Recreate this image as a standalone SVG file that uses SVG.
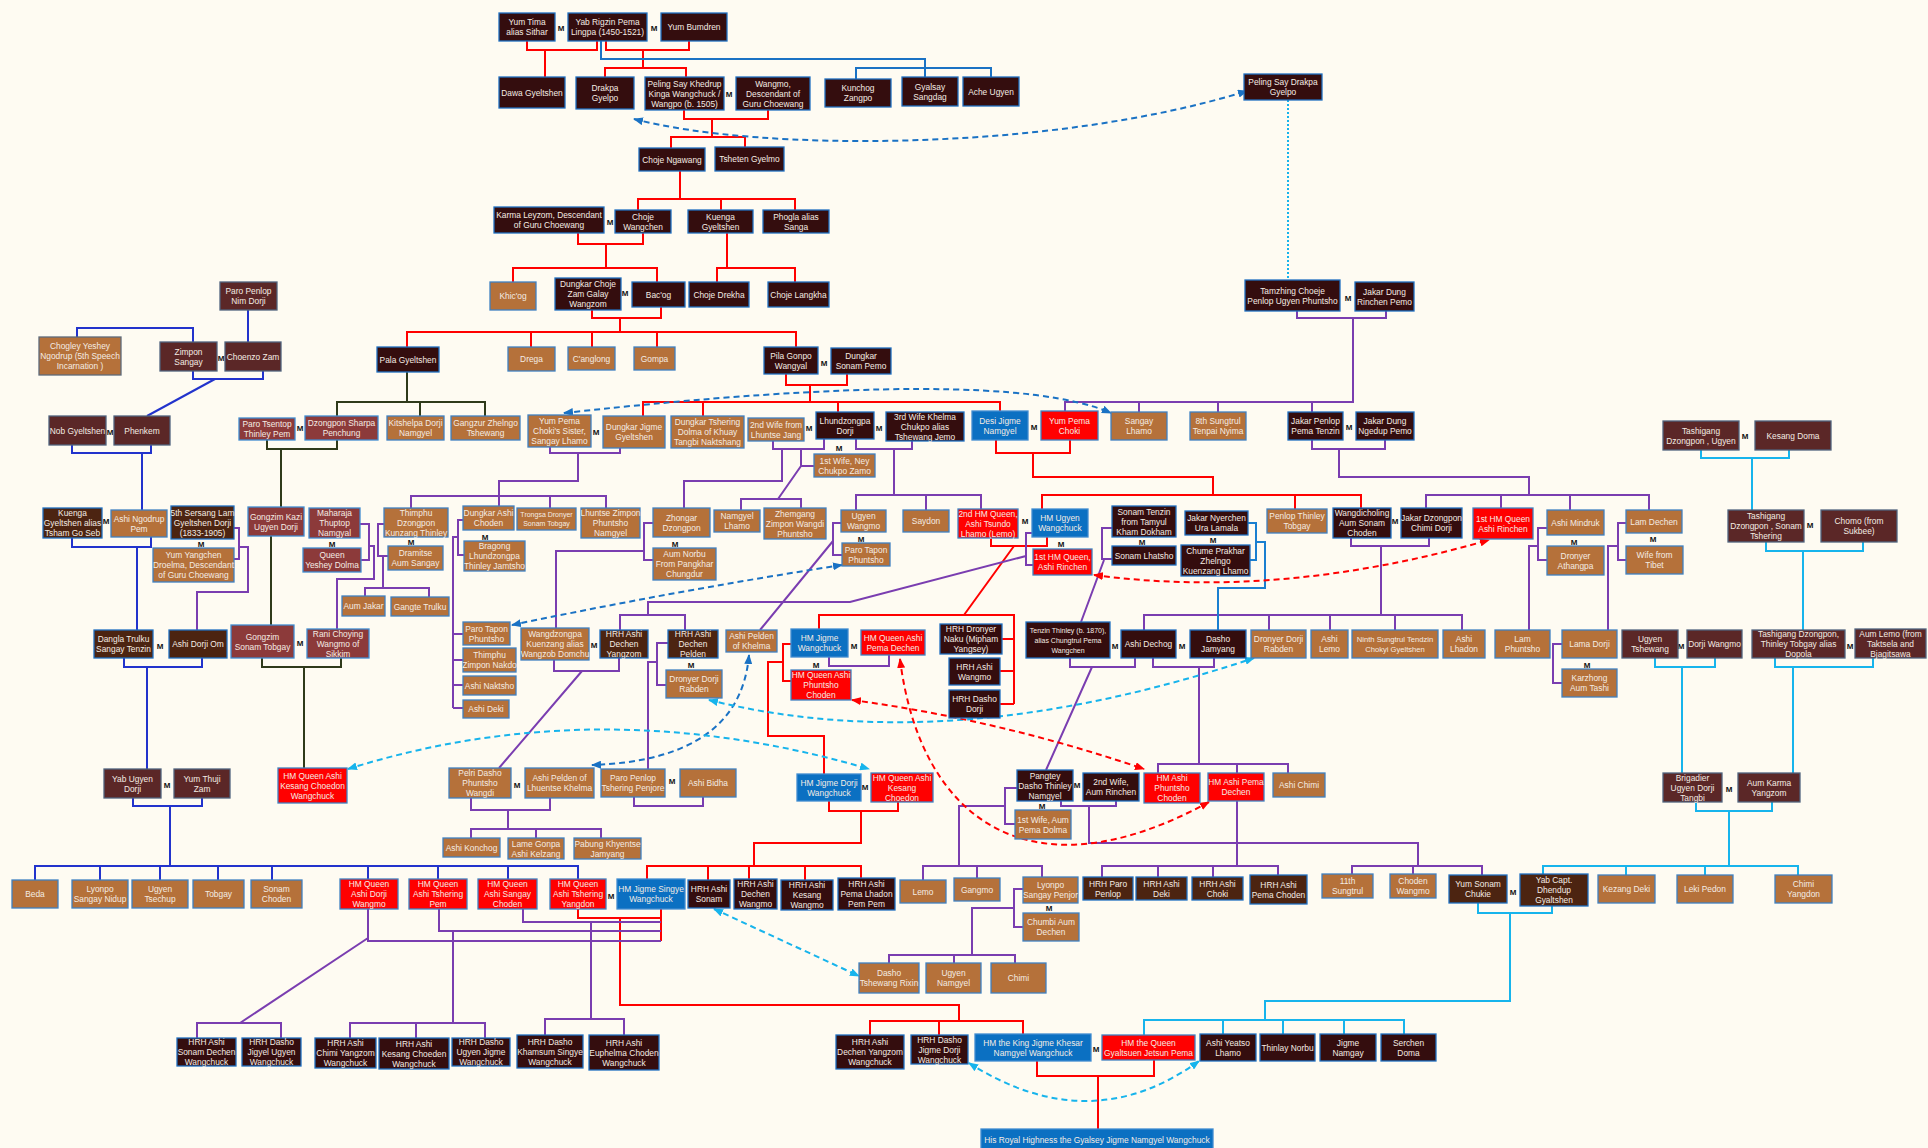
<svg xmlns="http://www.w3.org/2000/svg" width="1928" height="1148" viewBox="0 0 1928 1148">
<style>
rect{stroke-width:1.3}
.dk rect{fill:#340d0e;stroke:#1f6fc0}
.mr rect{fill:#5b2727;stroke:#50637d}
.rb rect{fill:#8c3a3a;stroke:#3f8bd0}
.cp rect{fill:#b5713a;stroke:#3f80c0}
.db rect{fill:#4c2411;stroke:#1f6fc0}
.rd rect{fill:#ff0000;stroke:#3f80c0}
.bl rect{fill:#0b70c2;stroke:#3f8bd0}
text{font-family:"Liberation Sans",Arial,sans-serif;font-size:8.4px;fill:#f4ece4;text-anchor:middle}
.sm text{font-size:7px}
.m{fill:#111;font-weight:bold;font-size:8px}
#connectors path{fill:none;stroke-width:2}
.r{stroke:#ff0000}.b{stroke:#2233cc}.tb{stroke:#1a72c4}.p{stroke:#7a3db0}.o{stroke:#2f3a1a}.c{stroke:#17b4ec}.bb{stroke:#1a7fd0}
.d{stroke-dasharray:6 4}
.dot{stroke-dasharray:2 2}
</style>
<defs>
<marker id="ab" viewBox="0 0 10 8" refX="9" refY="4" markerWidth="10" markerHeight="8" markerUnits="userSpaceOnUse" orient="auto-start-reverse"><path d="M0,0 L10,4 L0,8 z" fill="#1a72c4"/></marker>
<marker id="ac" viewBox="0 0 10 8" refX="9" refY="4" markerWidth="10" markerHeight="8" markerUnits="userSpaceOnUse" orient="auto-start-reverse"><path d="M0,0 L10,4 L0,8 z" fill="#17b4ec"/></marker>
<marker id="ar" viewBox="0 0 10 8" refX="9" refY="4" markerWidth="10" markerHeight="8" markerUnits="userSpaceOnUse" orient="auto-start-reverse"><path d="M0,0 L10,4 L0,8 z" fill="#ff0000"/></marker>
</defs>
<rect width="1928" height="1148" fill="#fefbf2"/>
<g id="connectors">
<path class="r" d="M527 41V50H597V41M545 50V77M606 41V50H689V41M643 50V68M605 77V68H686V77"/>
<path class="tb" d="M601 41V59H925V77M856 79V68H991V77"/>
<path class="r" d="M684 110V119H768V110M712 119V137M671 148V137H745V147M680 171V199M638 210V199H795V210M721 199V210"/>
<path class="r" d="M578 233V244H643V233M606 244V268M513 282V268H657V282M727 233V268M717 282V268H795V282"/>
<path class="r" d="M592 310V318H661V307M620 318V332M407 347V332H796V347M531 332V347M592 332V347M657 332V347"/>
<path class="r" d="M786 374V385H847V374M810 385V402M643 416V402H1000V411M703 402V416M838 402V412"/>
<path class="r" d="M996 440V453H1070V440M1033 453V477H1213V495M1042 509V495H1361V508M1295 495V509"/>
<path class="r" d="M991 538V546H1047V537M1014 546L964 615M819 629V615H1014V704M1002 639H1014M1000 671H1014M1000 704H1014"/>
<path class="r" d="M791 644H783V681H791M783 662H768V736H824V774"/>
<path class="r" d="M829 801V811H898V802M861 811V843H754V866M647 879V866H861V878M708 866V880M749 866V879M805 866V880"/>
<path class="r" d="M578 909V918H661V909M661 909V941M620 918V1005H959V1021M870 1035V1021H1023V1034M939 1021V1035"/>
<path class="r" d="M1037 1061V1076H1154V1060M1098 1076V1129"/>
<path class="b" d="M248 310V342M77 337V328H193V342M193 371V379H263V371M215 379L147 416M72 445V453H151V445M142 453V510M72 538V547H151V537M137 547V630M124 658V667H202V658M147 667V769M133 798V806H202V798M170 806V866M35 880V866H578V879M100 866V880M160 866V880M218 866V880M272 866V880M368 866V879M438 866V879M508 866V879"/>
<path class="o" d="M407 372V402M337 416V402H485V416M420 402V416M267 440V449H337V440M281 449V507M271 536V625M262 658V667H341V658M304 667V768"/>
<path class="p" d="M1297 311V318H1386V311M1353 318V402H1065V411M1139 402V412M1218 402V412M1312 402V412"/>
<path class="p" d="M1312 440V449H1385V440M1339 449V477H1529V495M1426 508V495H1649V510M1501 495V508M1570 495V510"/>
<path class="p" d="M1351 538V546H1429V538M1381 546V615M1144 630V615H1462V630M1269 615V630M1330 615V630M1395 615V630"/>
<path class="p" d="M1547 528H1538V560H1547M1538 546H1529V630M1626 523H1618V560H1626M1618 546H1608V630M1562 644H1553V683H1562"/>
<path class="p" d="M550 447V453H620V448M578 453V481H499V496M411 508V496H606V508M499 496V506M550 496V508"/>
<path class="p" d="M463 520H458V555H464M458 537H453V708M453 634H463M453 660H463M453 685H463M453 708H463"/>
<path class="p" d="M384 524H378V556H388M383 556V588M365 596V588H429V597M360 524H369V560H361M369 546H374V579H337V629M234 528H239V559H234M239 547H248V592H197V630"/>
<path class="p" d="M653 523H644V560H653M644 551H556V628"/>
<path class="p" d="M773 441V449H824V439M856 439V449H912V441M801 449V466H814M782 449V481H684V508M801 466L778 499M741 510V499H801V508"/>
<path class="p" d="M894 449V495M856 510V495H981V509M926 495V510M841 523H833V555H842M833 541L760 630"/>
<path class="p" d="M1032 533H1026V565H1033M1026 556L850 602H648V615M620 630V615H685V630M668 643H657V685H666M657 662H648V769"/>
<path class="p" d="M554 660V671H619V658M582 671L499 768M471 798V810H550V798M508 810V829M471 838V829H601V838M536 829V838M634 797V806H703V797"/>
<path class="p" d="M829 657V666H889V655M1112 528H1102V559H1112M1104 560L1081 622M1070 658V667H1135V658M1092 667L1046 770M1153 658V667H1214V658M1199 667V764M1158 773V764H1288V773M1237 764V773"/>
<path class="p" d="M1017 788H1005V824H1015M1005 806H959V866M923 880V866H1042V877M977 866V878"/>
<path class="p" d="M1061 801V806H1116V801M1089 806V843H1418V866M1237 801V866M1102 877V866H1278V875M1158 866V877M1213 866V877M1352 874V866H1482V875M1413 866V874"/>
<path class="p" d="M1023 889H1014V927H1023M1014 908H972V955M889 963V955H1015V963M954 955V963"/>
<path class="p" d="M368 909V941H661M439 909V931H661M523 909V922H661M368 938L240 1023M197 1038V1023H281V1038M453 931V1023M350 1038V1023H485V1038M416 1023V1038M591 922V1019M545 1035V1019H624V1035"/>
<path class="c" d="M1701 450V458H1789V450M1752 458V510M1766 542V551H1863V542M1803 551V630M1655 658V667H1715V658M1682 667V773M1775 658V667H1873V658M1793 667V773"/>
<path class="c" d="M1696 802V811H1772V802M1729 811V866M1543 874V866H1798V875M1626 866V875M1705 866V875M1478 903V913H1552V906M1510 913V1001H1265V1020M1144 1035V1020H1404V1034M1223 1020V1034M1283 1020V1034M1344 1020V1034"/>
<path class="bb" d="M1248 523H1256V560H1250M1256 542H1265V588H1218V630"/>
<path class="c dot" d="M1288 100V280"/>
<path class="tb d" d="M634 119C760 152 1050 152 1247 91" marker-start="url(#ab)" marker-end="url(#ab)"/>
<path class="tb d" d="M564 413Q1000 365 1111 413" marker-start="url(#ab)" marker-end="url(#ab)"/>
<path class="tb d" d="M842 565Q680 590 512 625" marker-start="url(#ab)" marker-end="url(#ab)"/>
<path class="tb d" d="M749 655Q740 760 592 765" marker-start="url(#ab)" marker-end="url(#ab)"/>
<path class="c d" d="M709 700Q950 760 1254 658" marker-start="url(#ac)" marker-end="url(#ac)"/>
<path class="c d" d="M348 769Q600 690 869 769" marker-start="url(#ac)" marker-end="url(#ac)"/>
<path class="c d" d="M714 909L859 976" marker-start="url(#ac)" marker-end="url(#ac)"/>
<path class="c d" d="M969 1063Q1090 1140 1199 1061" marker-start="url(#ac)" marker-end="url(#ac)"/>
<path class="r d" d="M1094 575Q1280 600 1489 540" marker-start="url(#ar)" marker-end="url(#ar)"/>
<path class="r d" d="M852 700Q1000 720 1144 769" marker-start="url(#ar)" marker-end="url(#ar)"/>
<path class="r d" d="M900 659C920 820 1030 900 1209 802" marker-start="url(#ar)" marker-end="url(#ar)"/>
</g>
<g id="marks">
<text class="m" x="561" y="31">M</text><text class="m" x="654" y="31">M</text><text class="m" x="729" y="97">M</text><text class="m" x="610" y="225">M</text><text class="m" x="625" y="296">M</text><text class="m" x="1348" y="301">M</text><text class="m" x="221" y="361">M</text><text class="m" x="824" y="366">M</text><text class="m" x="110" y="435">M</text><text class="m" x="300" y="431">M</text><text class="m" x="596" y="435">M</text><text class="m" x="809" y="431">M</text><text class="m" x="879" y="431">M</text><text class="m" x="839" y="451">M</text><text class="m" x="1034" y="430">M</text><text class="m" x="1349" y="430">M</text><text class="m" x="1745" y="439">M</text><text class="m" x="106" y="524">M</text><text class="m" x="201" y="547">M</text><text class="m" x="332" y="547">M</text><text class="m" x="411" y="545">M</text><text class="m" x="485" y="540">M</text><text class="m" x="675" y="547">M</text><text class="m" x="861" y="542">M</text><text class="m" x="1025" y="524">M</text><text class="m" x="1061" y="547">M</text><text class="m" x="1142" y="545">M</text><text class="m" x="1213" y="543">M</text><text class="m" x="1395" y="524">M</text><text class="m" x="1574" y="545">M</text><text class="m" x="1653" y="542">M</text><text class="m" x="1810" y="528">M</text><text class="m" x="160" y="649">M</text><text class="m" x="300" y="646">M</text><text class="m" x="594" y="648">M</text><text class="m" x="691" y="668">M</text><text class="m" x="854" y="649">M</text><text class="m" x="816" y="668">M</text><text class="m" x="1115" y="649">M</text><text class="m" x="1182" y="649">M</text><text class="m" x="1587" y="668">M</text><text class="m" x="1681" y="649">M</text><text class="m" x="1850" y="649">M</text><text class="m" x="167" y="788">M</text><text class="m" x="517" y="788">M</text><text class="m" x="672" y="784">M</text><text class="m" x="865" y="790">M</text><text class="m" x="1077" y="788">M</text><text class="m" x="1042" y="809">M</text><text class="m" x="1729" y="792">M</text><text class="m" x="611" y="899">M</text><text class="m" x="1049" y="911">M</text><text class="m" x="1513" y="895">M</text><text class="m" x="1096" y="1052">M</text>
</g>
<g id="nodes">
<g id="n-yumtima" class="dk"><rect x="499" y="13" width="56" height="28"/><text x="527" y="25">Yum Tima<tspan x="527" dy="10">alias Sithar</tspan></text></g>
<g id="n-yabrigzin" class="dk"><rect x="568" y="13" width="79" height="28"/><text x="607.5" y="25">Yab Rigzin Pema<tspan x="607.5" dy="10">Lingpa (1450-1521)</tspan></text></g>
<g id="n-yumbumdren" class="dk"><rect x="661" y="13" width="66" height="28"/><text x="694" y="30">Yum Bumdren</text></g>
<g id="n-dawa" class="dk"><rect x="499" y="77" width="66" height="31"/><text x="532" y="95.5">Dawa Gyeltshen</text></g>
<g id="n-drakpa" class="dk"><rect x="576" y="77" width="58" height="32"/><text x="605" y="91">Drakpa<tspan x="605" dy="10">Gyelpo</tspan></text></g>
<g id="n-peling" class="dk"><rect x="645" y="77" width="79" height="33"/><text x="684.5" y="86.5">Peling Say Khedrup<tspan x="684.5" dy="10">Kinga Wangchuck /</tspan><tspan x="684.5" dy="10">Wangpo (b. 1505)</tspan></text></g>
<g id="n-wangmo" class="dk"><rect x="736" y="77" width="74" height="33"/><text x="773" y="86.5">Wangmo,<tspan x="773" dy="10">Descendant of</tspan><tspan x="773" dy="10">Guru Choewang</tspan></text></g>
<g id="n-kunchog" class="dk"><rect x="825" y="79" width="66" height="28"/><text x="858" y="91">Kunchog<tspan x="858" dy="10">Zangpo</tspan></text></g>
<g id="n-gyalsay" class="dk"><rect x="902" y="77" width="56" height="29"/><text x="930" y="89.5">Gyalsay<tspan x="930" dy="10">Sangdag</tspan></text></g>
<g id="n-ache" class="dk"><rect x="963" y="77" width="56" height="29"/><text x="991" y="94.5">Ache Ugyen</text></g>
<g id="n-pelingdrakpa" class="dk"><rect x="1244" y="74" width="78" height="26"/><text x="1283" y="85">Peling Say Drakpa<tspan x="1283" dy="10">Gyelpo</tspan></text></g>
<g id="n-chojengawang" class="dk"><rect x="639" y="148" width="66" height="23"/><text x="672" y="162.5">Choje Ngawang</text></g>
<g id="n-tsheten" class="dk"><rect x="715" y="147" width="69" height="24"/><text x="749.5" y="162">Tsheten Gyelmo</text></g>
<g id="n-karma" class="dk"><rect x="494" y="207" width="110" height="26"/><text x="549" y="218">Karma Leyzom, Descendant<tspan x="549" dy="10">of Guru Choewang</tspan></text></g>
<g id="n-chojewangchen" class="dk"><rect x="615" y="210" width="56" height="23"/><text x="643" y="219.5">Choje<tspan x="643" dy="10">Wangchen</tspan></text></g>
<g id="n-kuenga" class="dk"><rect x="688" y="210" width="65" height="23"/><text x="720.5" y="219.5">Kuenga<tspan x="720.5" dy="10">Gyeltshen</tspan></text></g>
<g id="n-phogla" class="dk"><rect x="763" y="210" width="66" height="23"/><text x="796" y="219.5">Phogla alias<tspan x="796" dy="10">Sanga</tspan></text></g>
<g id="n-khicog" class="cp"><rect x="490" y="282" width="46" height="28"/><text x="513" y="299">Khic'og</text></g>
<g id="n-dungkarchoje" class="dk"><rect x="555" y="278" width="66" height="32"/><text x="588" y="287">Dungkar Choje<tspan x="588" dy="10">Zam Galay</tspan><tspan x="588" dy="10">Wangzom</tspan></text></g>
<g id="n-bacog" class="dk"><rect x="632" y="282" width="53" height="25"/><text x="658.5" y="297.5">Bac'og</text></g>
<g id="n-chojedrekha" class="dk"><rect x="689" y="282" width="60" height="25"/><text x="719" y="297.5">Choje Drekha</text></g>
<g id="n-chojelangkha" class="dk"><rect x="768" y="282" width="61" height="25"/><text x="798.5" y="297.5">Choje Langkha</text></g>
<g id="n-tamzhing" class="dk"><rect x="1245" y="280" width="95" height="31"/><text x="1292.5" y="293.5">Tamzhing Choeje<tspan x="1292.5" dy="10">Penlop Ugyen Phuntsho</tspan></text></g>
<g id="n-jakardungrinchen" class="dk"><rect x="1355" y="282" width="59" height="29"/><text x="1384.5" y="294.5">Jakar Dung<tspan x="1384.5" dy="10">Rinchen Pemo</tspan></text></g>
<g id="n-paropenlopnim" class="mr"><rect x="220" y="282" width="57" height="28"/><text x="248.5" y="294">Paro Penlop<tspan x="248.5" dy="10">Nim Dorji</tspan></text></g>
<g id="n-chogley" class="cp"><rect x="39" y="337" width="82" height="38" style="stroke:#5e6a7a"/><text x="80" y="349">Chogley Yeshey<tspan x="80" dy="10">Ngodrup (5th Speech</tspan><tspan x="80" dy="10">Incarnation )</tspan></text></g>
<g id="n-zimpon" class="mr"><rect x="160" y="342" width="57" height="29"/><text x="188.5" y="354.5">Zimpon<tspan x="188.5" dy="10">Sangay</tspan></text></g>
<g id="n-choenzo" class="mr"><rect x="225" y="342" width="56" height="29"/><text x="253" y="359.5">Choenzo Zam</text></g>
<g id="n-pala" class="dk"><rect x="377" y="347" width="62" height="25"/><text x="408" y="362.5">Pala Gyeltshen</text></g>
<g id="n-drega" class="cp"><rect x="508" y="347" width="47" height="24"/><text x="531.5" y="362">Drega</text></g>
<g id="n-canglong" class="cp"><rect x="568" y="347" width="47" height="23"/><text x="591.5" y="361.5">C'anglong</text></g>
<g id="n-gompa" class="cp"><rect x="634" y="347" width="41" height="23"/><text x="654.5" y="361.5">Gompa</text></g>
<g id="n-pila" class="dk"><rect x="764" y="347" width="54" height="27"/><text x="791" y="358.5">Pila Gonpo<tspan x="791" dy="10">Wangyal</tspan></text></g>
<g id="n-dungkarsonam" class="dk"><rect x="831" y="348" width="60" height="26"/><text x="861" y="359">Dungkar<tspan x="861" dy="10">Sonam Pemo</tspan></text></g>
<g id="n-nob" class="mr"><rect x="49" y="416" width="57" height="29"/><text x="77.5" y="433.5">Nob Gyeltshen</text></g>
<g id="n-phenkem" class="mr"><rect x="114" y="416" width="56" height="29"/><text x="142" y="433.5">Phenkem</text></g>
<g id="n-parotsentop" class="rb"><rect x="239" y="418" width="56" height="22"/><text x="267" y="427">Paro Tsentop<tspan x="267" dy="10">Thinley Pem</tspan></text></g>
<g id="n-dzongponsharpa" class="rb"><rect x="305" y="416" width="73" height="24"/><text x="341.5" y="426">Dzongpon Sharpa<tspan x="341.5" dy="10">Penchung</tspan></text></g>
<g id="n-kitshelpa" class="cp"><rect x="387" y="416" width="57" height="24"/><text x="415.5" y="426">Kitshelpa Dorji<tspan x="415.5" dy="10">Namgyel</tspan></text></g>
<g id="n-gangzur" class="cp"><rect x="451" y="416" width="69" height="24"/><text x="485.5" y="426">Gangzur Zhelngo<tspan x="485.5" dy="10">Tshewang</tspan></text></g>
<g id="n-yumpemasister" class="cp"><rect x="528" y="415" width="63" height="32"/><text x="559.5" y="424">Yum Pema<tspan x="559.5" dy="10">Choki's Sister,</tspan><tspan x="559.5" dy="10">Sangay Lhamo</tspan></text></g>
<g id="n-dungkarjigme" class="cp"><rect x="603" y="416" width="62" height="32"/><text x="634" y="430">Dungkar Jigme<tspan x="634" dy="10">Gyeltshen</tspan></text></g>
<g id="n-dungkartshering" class="cp"><rect x="671" y="416" width="73" height="32"/><text x="707.5" y="425">Dungkar Tshering<tspan x="707.5" dy="10">Dolma of Khuay</tspan><tspan x="707.5" dy="10">Tangbi  Naktshang</tspan></text></g>
<g id="n-2ndwifelhuntse" class="cp"><rect x="748" y="418" width="56" height="23"/><text x="776" y="427.5">2nd Wife from<tspan x="776" dy="10">Lhuntse Jang</tspan></text></g>
<g id="n-lhundzongpa" class="dk"><rect x="816" y="412" width="58" height="27"/><text x="845" y="423.5">Lhundzongpa<tspan x="845" dy="10">Dorji</tspan></text></g>
<g id="n-3rdwife" class="dk"><rect x="886" y="412" width="78" height="29"/><text x="925" y="419.5">3rd Wife Khelma<tspan x="925" dy="10">Chukpo alias</tspan><tspan x="925" dy="10">Tshewang Jemo</tspan></text></g>
<g id="n-1stwifeney" class="cp"><rect x="814" y="454" width="61" height="23"/><text x="844.5" y="463.5">1st Wife, Ney<tspan x="844.5" dy="10">Chukpo Zamo</tspan></text></g>
<g id="n-desi" class="bl"><rect x="972" y="411" width="56" height="29"/><text x="1000" y="423.5">Desi Jigme<tspan x="1000" dy="10">Namgyel</tspan></text></g>
<g id="n-yumpemachoki" class="rd"><rect x="1041" y="411" width="57" height="29"/><text x="1069.5" y="423.5">Yum Pema<tspan x="1069.5" dy="10">Choki</tspan></text></g>
<g id="n-sangaylhamo" class="cp"><rect x="1111" y="412" width="56" height="28"/><text x="1139" y="424">Sangay<tspan x="1139" dy="10">Lhamo</tspan></text></g>
<g id="n-8thsungtrul" class="cp"><rect x="1190" y="412" width="56" height="28"/><text x="1218" y="424">8th Sungtrul<tspan x="1218" dy="10">Tenpai  Nyima</tspan></text></g>
<g id="n-jakarpenlop" class="dk"><rect x="1288" y="412" width="55" height="28"/><text x="1315.5" y="424">Jakar Penlop<tspan x="1315.5" dy="10">Pema Tenzin</tspan></text></g>
<g id="n-jakardungngedup" class="dk"><rect x="1356" y="412" width="58" height="28"/><text x="1385" y="424">Jakar Dung<tspan x="1385" dy="10">Ngedup Pemo</tspan></text></g>
<g id="n-tashigangugyen" class="mr"><rect x="1663" y="421" width="76" height="29"/><text x="1701" y="433.5">Tashigang<tspan x="1701" dy="10">Dzongpon , Ugyen</tspan></text></g>
<g id="n-kesangdoma" class="mr"><rect x="1755" y="421" width="76" height="29"/><text x="1793" y="438.5">Kesang Doma</text></g>
<g id="n-kuengatsham" class="db"><rect x="43" y="508" width="59" height="30"/><text x="72.5" y="516">Kuenga<tspan x="72.5" dy="10">Gyeltshen alias</tspan><tspan x="72.5" dy="10">Tsham Go Seb</tspan></text></g>
<g id="n-ashingodrup" class="cp"><rect x="111" y="510" width="56" height="27"/><text x="139" y="521.5">Ashi Ngodrup<tspan x="139" dy="10">Pem</tspan></text></g>
<g id="n-5thsersang" class="db"><rect x="171" y="506" width="63" height="33"/><text x="202.5" y="515.5">5th Sersang Lam<tspan x="202.5" dy="10">Gyeltshen Dorji</tspan><tspan x="202.5" dy="10">(1833-1905)</tspan></text></g>
<g id="n-yumyangchen" class="cp"><rect x="153" y="548" width="81" height="34"/><text x="193.5" y="558">Yum Yangchen<tspan x="193.5" dy="10">Droelma, Descendant</tspan><tspan x="193.5" dy="10">of Guru Choewang</tspan></text></g>
<g id="n-gongzimkazi" class="rb"><rect x="248" y="507" width="56" height="29"/><text x="276" y="519.5">Gongzim Kazi<tspan x="276" dy="10">Ugyen Dorji</tspan></text></g>
<g id="n-maharaja" class="rb"><rect x="309" y="508" width="51" height="30"/><text x="334.5" y="516">Maharaja<tspan x="334.5" dy="10">Thuptop</tspan><tspan x="334.5" dy="10">Namgyal</tspan></text></g>
<g id="n-queenyeshey" class="rb"><rect x="303" y="548" width="58" height="24"/><text x="332" y="558">Queen<tspan x="332" dy="10">Yeshey Dolma</tspan></text></g>
<g id="n-thimphudzongpon" class="cp"><rect x="384" y="508" width="64" height="29"/><text x="416" y="515.5">Thimphu<tspan x="416" dy="10">Dzongpon</tspan><tspan x="416" dy="10">Kunzang Thinley</tspan></text></g>
<g id="n-dramitse" class="cp"><rect x="388" y="546" width="55" height="24"/><text x="415.5" y="556">Dramitse<tspan x="415.5" dy="10">Aum Sangay</tspan></text></g>
<g id="n-dungkarashichoden" class="cp"><rect x="463" y="506" width="51" height="24"/><text x="488.5" y="516">Dungkar Ashi<tspan x="488.5" dy="10">Choden</tspan></text></g>
<g id="n-bragong" class="cp"><rect x="464" y="541" width="61" height="30"/><text x="494.5" y="549">Bragong<tspan x="494.5" dy="10">Lhundzongpa</tspan><tspan x="494.5" dy="10">Thinley Jamtsho</tspan></text></g>
<g id="n-trongsadronyer" class="cp sm"><rect x="517" y="508" width="59" height="22"/><text x="546.5" y="517">Trongsa Dronyer<tspan x="546.5" dy="9">Sonam Tobgay</tspan></text></g>
<g id="n-lhuntsezimpon" class="cp"><rect x="581" y="508" width="59" height="30"/><text x="610.5" y="516">Lhuntse Zimpon<tspan x="610.5" dy="10">Phuntsho</tspan><tspan x="610.5" dy="10">Namgyel</tspan></text></g>
<g id="n-zhongar" class="cp"><rect x="653" y="508" width="57" height="29"/><text x="681.5" y="520.5">Zhongar<tspan x="681.5" dy="10">Dzongpon</tspan></text></g>
<g id="n-aumnorbu" class="cp"><rect x="653" y="548" width="63" height="32"/><text x="684.5" y="557">Aum Norbu<tspan x="684.5" dy="10">From Pangkhar</tspan><tspan x="684.5" dy="10">Chungdur</tspan></text></g>
<g id="n-namgyellhamo" class="cp"><rect x="714" y="510" width="46" height="22"/><text x="737" y="519">Namgyel<tspan x="737" dy="10">Lhamo</tspan></text></g>
<g id="n-zhemgang" class="cp"><rect x="764" y="508" width="62" height="31"/><text x="795" y="516.5">Zhemgang<tspan x="795" dy="10">Zimpon Wangdi</tspan><tspan x="795" dy="10">Phuntsho</tspan></text></g>
<g id="n-ugyenwangmo" class="cp"><rect x="841" y="510" width="45" height="22"/><text x="863.5" y="519">Ugyen<tspan x="863.5" dy="10">Wangmo</tspan></text></g>
<g id="n-parotapon1" class="cp"><rect x="842" y="543" width="48" height="23"/><text x="866" y="552.5">Paro Tapon<tspan x="866" dy="10">Phuntsho</tspan></text></g>
<g id="n-saydon" class="cp"><rect x="903" y="510" width="46" height="22"/><text x="926" y="524">Saydon</text></g>
<g id="n-2ndqueen" class="rd"><rect x="958" y="509" width="60" height="29"/><text x="988" y="516.5">2nd HM Queen,<tspan x="988" dy="10">Ashi Tsundo</tspan><tspan x="988" dy="10">Lhamo (Lemo)</tspan></text></g>
<g id="n-hmugyen" class="bl"><rect x="1032" y="509" width="56" height="28"/><text x="1060" y="521">HM  Ugyen<tspan x="1060" dy="10">Wangchuck</tspan></text></g>
<g id="n-1stqueen" class="rd"><rect x="1033" y="549" width="59" height="26"/><text x="1062.5" y="560">1st HM Queen,<tspan x="1062.5" dy="10">Ashi Rinchen</tspan></text></g>
<g id="n-sonamtenzin" class="dk"><rect x="1112" y="506" width="64" height="31"/><text x="1144" y="514.5">Sonam Tenzin<tspan x="1144" dy="10">from Tamyul</tspan><tspan x="1144" dy="10">Kham Dokham</tspan></text></g>
<g id="n-sonamlhatsho" class="dk"><rect x="1112" y="546" width="64" height="19"/><text x="1144" y="558.5">Sonam Lhatsho</text></g>
<g id="n-jakarnyerchen" class="dk"><rect x="1185" y="511" width="63" height="24"/><text x="1216.5" y="521">Jakar Nyerchen<tspan x="1216.5" dy="10">Ura Lamala</tspan></text></g>
<g id="n-chume" class="dk"><rect x="1181" y="545" width="69" height="31"/><text x="1215.5" y="553.5">Chume Prakhar<tspan x="1215.5" dy="10">Zhelngo</tspan><tspan x="1215.5" dy="10">Kuenzang Lhamo</tspan></text></g>
<g id="n-penlopthinley" class="cp"><rect x="1267" y="509" width="60" height="24"/><text x="1297" y="519">Penlop Thinley<tspan x="1297" dy="10">Tobgay</tspan></text></g>
<g id="n-wangdicholing" class="dk"><rect x="1333" y="508" width="58" height="30"/><text x="1362" y="516">Wangdicholing<tspan x="1362" dy="10">Aum Sonam</tspan><tspan x="1362" dy="10">Choden</tspan></text></g>
<g id="n-jakardzongpon" class="dk"><rect x="1401" y="508" width="61" height="30"/><text x="1431.5" y="521">Jakar Dzongpon<tspan x="1431.5" dy="10">Chimi Dorji</tspan></text></g>
<g id="n-1stqueen2" class="rd"><rect x="1473" y="508" width="60" height="31"/><text x="1503" y="521.5">1st HM Queen<tspan x="1503" dy="10">Ashi Rinchen</tspan></text></g>
<g id="n-ashimindruk" class="cp"><rect x="1547" y="510" width="57" height="25"/><text x="1575.5" y="525.5">Ashi Mindruk</text></g>
<g id="n-dronyerathangpa" class="cp"><rect x="1547" y="546" width="57" height="29"/><text x="1575.5" y="558.5">Dronyer<tspan x="1575.5" dy="10">Athangpa</tspan></text></g>
<g id="n-lamdechen" class="cp"><rect x="1626" y="510" width="56" height="23"/><text x="1654" y="524.5">Lam Dechen</text></g>
<g id="n-wifetibet" class="cp"><rect x="1626" y="546" width="57" height="28"/><text x="1654.5" y="558">Wife from<tspan x="1654.5" dy="10">Tibet</tspan></text></g>
<g id="n-tashigangsonam" class="mr"><rect x="1728" y="510" width="76" height="32"/><text x="1766" y="519">Tashigang<tspan x="1766" dy="10">Dzongpon , Sonam</tspan><tspan x="1766" dy="10">Tshering</tspan></text></g>
<g id="n-chomo" class="mr"><rect x="1821" y="510" width="76" height="32"/><text x="1859" y="524">Chomo (from<tspan x="1859" dy="10">Sukbee)</tspan></text></g>
<g id="n-aumjakar" class="cp"><rect x="342" y="596" width="43" height="20"/><text x="363.5" y="609">Aum Jakar</text></g>
<g id="n-gangtetrulku" class="cp"><rect x="391" y="597" width="58" height="19"/><text x="420" y="609.5">Gangte Trulku</text></g>
<g id="n-dangla" class="db"><rect x="94" y="630" width="59" height="28"/><text x="123.5" y="642">Dangla Trulku<tspan x="123.5" dy="10">Sangay Tenzin</tspan></text></g>
<g id="n-ashidorjiom" class="db"><rect x="169" y="630" width="58" height="28"/><text x="198" y="647">Ashi Dorji Om</text></g>
<g id="n-gongzimsonam" class="rb"><rect x="231" y="625" width="63" height="33"/><text x="262.5" y="639.5">Gongzim<tspan x="262.5" dy="10">Sonam Tobgay</tspan></text></g>
<g id="n-rani" class="rb"><rect x="307" y="629" width="62" height="29"/><text x="338" y="636.5">Rani Choying<tspan x="338" dy="10">Wangmo of</tspan><tspan x="338" dy="10">Sikkim</tspan></text></g>
<g id="n-parotapon2" class="cp"><rect x="463" y="622" width="47" height="23"/><text x="486.5" y="631.5">Paro Tapon<tspan x="486.5" dy="10">Phuntsho</tspan></text></g>
<g id="n-thimphuzimpon" class="cp"><rect x="463" y="648" width="53" height="24"/><text x="489.5" y="658">Thimphu<tspan x="489.5" dy="10">Zimpon Nakdo</tspan></text></g>
<g id="n-ashinaktsho" class="cp"><rect x="463" y="676" width="53" height="19"/><text x="489.5" y="688.5">Ashi Naktsho</text></g>
<g id="n-ashideki" class="cp"><rect x="463" y="700" width="46" height="18"/><text x="486" y="712">Ashi Deki</text></g>
<g id="n-wangdzongpa" class="cp"><rect x="521" y="628" width="68" height="32"/><text x="555" y="637">Wangdzongpa<tspan x="555" dy="10">Kuenzang alias</tspan><tspan x="555" dy="10">Wangzob Domchu</tspan></text></g>
<g id="n-hrhdechenyangzom" class="db"><rect x="600" y="630" width="48" height="28"/><text x="624" y="637">HRH Ashi<tspan x="624" dy="10">Dechen</tspan><tspan x="624" dy="10">Yangzom</tspan></text></g>
<g id="n-hrhdechenpelden" class="db"><rect x="668" y="630" width="50" height="28"/><text x="693" y="637">HRH Ashi<tspan x="693" dy="10">Dechen</tspan><tspan x="693" dy="10">Pelden</tspan></text></g>
<g id="n-dronyerdorji1" class="cp"><rect x="666" y="670" width="56" height="28"/><text x="694" y="682">Dronyer Dorji<tspan x="694" dy="10">Rabden</tspan></text></g>
<g id="n-ashipeldenkhelma" class="cp"><rect x="726" y="630" width="51" height="22"/><text x="751.5" y="639">Ashi Pelden<tspan x="751.5" dy="10">of  Khelma</tspan></text></g>
<g id="n-hmjigme" class="bl"><rect x="791" y="629" width="57" height="28"/><text x="819.5" y="641">HM Jigme<tspan x="819.5" dy="10">Wangchuck</tspan></text></g>
<g id="n-hmqueenpemadechen" class="rd"><rect x="861" y="630" width="64" height="25"/><text x="893" y="640.5">HM Queen Ashi<tspan x="893" dy="10">Pema Dechen</tspan></text></g>
<g id="n-hmqueenphuntsho" class="rd"><rect x="791" y="670" width="60" height="30"/><text x="821" y="678">HM Queen Ashi<tspan x="821" dy="10">Phuntsho</tspan><tspan x="821" dy="10">Choden</tspan></text></g>
<g id="n-hrhdronyernaku" class="dk"><rect x="940" y="624" width="62" height="30"/><text x="971" y="632">HRH Dronyer<tspan x="971" dy="10">Naku (Mipham</tspan><tspan x="971" dy="10">Yangsey)</tspan></text></g>
<g id="n-hrhashiwangmo" class="dk"><rect x="949" y="658" width="51" height="27"/><text x="974.5" y="669.5">HRH Ashi<tspan x="974.5" dy="10">Wangmo</tspan></text></g>
<g id="n-hrhdashodorji" class="dk"><rect x="949" y="690" width="51" height="28"/><text x="974.5" y="702">HRH Dasho<tspan x="974.5" dy="10">Dorji</tspan></text></g>
<g id="n-tenzinthinley" class="dk sm"><rect x="1026" y="622" width="84" height="36"/><text x="1068" y="633">Tenzin  Thinley  (b. 1870),<tspan x="1068" dy="10">alias  Chungtrul  Pema</tspan><tspan x="1068" dy="10">Wangchen</tspan></text></g>
<g id="n-ashidechog" class="dk"><rect x="1121" y="630" width="55" height="28"/><text x="1148.5" y="647">Ashi Dechog</text></g>
<g id="n-dashojamyang" class="dk"><rect x="1190" y="630" width="56" height="28"/><text x="1218" y="642">Dasho<tspan x="1218" dy="10">Jamyang</tspan></text></g>
<g id="n-dronyerdorji2" class="cp"><rect x="1251" y="630" width="55" height="28"/><text x="1278.5" y="642">Dronyer Dorji<tspan x="1278.5" dy="10">Rabden</tspan></text></g>
<g id="n-ashilemo" class="cp"><rect x="1311" y="630" width="37" height="28"/><text x="1329.5" y="642">Ashi<tspan x="1329.5" dy="10">Lemo</tspan></text></g>
<g id="n-ninthsungtrul" class="cp"><rect x="1352" y="630" width="86" height="28"/><text x="1395" y="642" style="font-size:7.6px">Ninth Sungtrul Tendzin<tspan x="1395" dy="10">Chokyi Gyeltshen</tspan></text></g>
<g id="n-ashilhadon" class="cp"><rect x="1443" y="630" width="42" height="28"/><text x="1464" y="642">Ashi<tspan x="1464" dy="10">Lhadon</tspan></text></g>
<g id="n-lamphuntsho" class="cp"><rect x="1495" y="630" width="55" height="28"/><text x="1522.5" y="642">Lam<tspan x="1522.5" dy="10">Phuntsho</tspan></text></g>
<g id="n-lamadorji" class="cp"><rect x="1562" y="630" width="55" height="28"/><text x="1589.5" y="647">Lama Dorji</text></g>
<g id="n-karzhong" class="cp"><rect x="1562" y="669" width="55" height="28"/><text x="1589.5" y="681">Karzhong<tspan x="1589.5" dy="10">Aum Tashi</tspan></text></g>
<g id="n-ugyentshewang" class="mr"><rect x="1622" y="630" width="56" height="28"/><text x="1650" y="642">Ugyen<tspan x="1650" dy="10">Tshewang</tspan></text></g>
<g id="n-dorjiwangmo" class="mr"><rect x="1687" y="630" width="55" height="28"/><text x="1714.5" y="647">Dorji  Wangmo</text></g>
<g id="n-tashigangthinley" class="mr"><rect x="1752" y="630" width="93" height="28"/><text x="1798.5" y="637">Tashigang Dzongpon,<tspan x="1798.5" dy="10">Thinley  Tobgay  alias</tspan><tspan x="1798.5" dy="10">Dopola</tspan></text></g>
<g id="n-aumlemo" class="mr"><rect x="1855" y="629" width="71" height="29"/><text x="1890.5" y="636.5">Aum Lemo (from<tspan x="1890.5" dy="10">Taktsela and</tspan><tspan x="1890.5" dy="10">Bjagitsawa</tspan></text></g>
<g id="n-yabugyen" class="mr"><rect x="104" y="769" width="57" height="29"/><text x="132.5" y="781.5">Yab Ugyen<tspan x="132.5" dy="10">Dorji</tspan></text></g>
<g id="n-yumthuji" class="mr"><rect x="174" y="769" width="56" height="29"/><text x="202" y="781.5">Yum Thuji<tspan x="202" dy="10">Zam</tspan></text></g>
<g id="n-hmqueenkesangwangchuck" class="rd"><rect x="278" y="768" width="69" height="35"/><text x="312.5" y="778.5">HM Queen Ashi<tspan x="312.5" dy="10">Kesang Choedon</tspan><tspan x="312.5" dy="10">Wangchuck</tspan></text></g>
<g id="n-pelri" class="cp"><rect x="449" y="768" width="62" height="30"/><text x="480" y="776">Pelri Dasho<tspan x="480" dy="10">Phuntsho</tspan><tspan x="480" dy="10">Wangdi</tspan></text></g>
<g id="n-ashipeldenlhuentse" class="cp"><rect x="525" y="768" width="69" height="30"/><text x="559.5" y="781">Ashi Pelden of<tspan x="559.5" dy="10">Lhuentse Khelma</tspan></text></g>
<g id="n-paropenloptshering" class="cp"><rect x="601" y="769" width="64" height="28"/><text x="633" y="781">Paro Penlop<tspan x="633" dy="10">Tshering Penjore</tspan></text></g>
<g id="n-ashibidha" class="cp"><rect x="680" y="769" width="56" height="28"/><text x="708" y="786">Ashi Bidha</text></g>
<g id="n-hmjigmedorji" class="bl"><rect x="797" y="774" width="64" height="27"/><text x="829" y="785.5">HM Jigme Dorji<tspan x="829" dy="10">Wangchuck</tspan></text></g>
<g id="n-hmqueenkesang" class="rd"><rect x="871" y="773" width="62" height="29"/><text x="902" y="780.5">HM Queen Ashi<tspan x="902" dy="10">Kesang</tspan><tspan x="902" dy="10">Choedon</tspan></text></g>
<g id="n-pangtey" class="dk"><rect x="1017" y="770" width="56" height="31"/><text x="1045" y="778.5">Pangtey<tspan x="1045" dy="10">Dasho Thinley</tspan><tspan x="1045" dy="10">Namgyel</tspan></text></g>
<g id="n-2ndwifeaum" class="dk"><rect x="1083" y="773" width="56" height="28"/><text x="1111" y="785">2nd Wife,<tspan x="1111" dy="10">Aum Rinchen</tspan></text></g>
<g id="n-hmashiphuntsho" class="rd"><rect x="1144" y="773" width="56" height="30"/><text x="1172" y="781">HM Ashi<tspan x="1172" dy="10">Phuntsho</tspan><tspan x="1172" dy="10">Choden</tspan></text></g>
<g id="n-hmashipemadechen" class="rd"><rect x="1208" y="773" width="56" height="28"/><text x="1236" y="785">HM Ashi Pema<tspan x="1236" dy="10">Dechen</tspan></text></g>
<g id="n-ashichimi" class="cp"><rect x="1273" y="773" width="52" height="24"/><text x="1299" y="788">Ashi Chimi</text></g>
<g id="n-1stwifeaum" class="cp"><rect x="1015" y="810" width="56" height="29"/><text x="1043" y="822.5">1st Wife, Aum<tspan x="1043" dy="10">Pema Dolma</tspan></text></g>
<g id="n-brigadier" class="mr"><rect x="1663" y="773" width="59" height="29"/><text x="1692.5" y="780.5">Brigadier<tspan x="1692.5" dy="10">Ugyen Dorji</tspan><tspan x="1692.5" dy="10">Tangbi</tspan></text></g>
<g id="n-aumkarma" class="mr"><rect x="1738" y="773" width="62" height="29"/><text x="1769" y="785.5">Aum Karma<tspan x="1769" dy="10">Yangzom</tspan></text></g>
<g id="n-ashikonchog" class="cp"><rect x="443" y="838" width="57" height="19"/><text x="471.5" y="850.5">Ashi Konchog</text></g>
<g id="n-lamegonpa" class="cp"><rect x="508" y="838" width="56" height="21"/><text x="536" y="846.5">Lame Gonpa<tspan x="536" dy="10">Ashi Kelzang</tspan></text></g>
<g id="n-pabung" class="cp"><rect x="574" y="838" width="67" height="21"/><text x="607.5" y="846.5">Pabung Khyentse<tspan x="607.5" dy="10">Jamyang</tspan></text></g>
<g id="n-beda" class="cp"><rect x="12" y="880" width="46" height="28"/><text x="35" y="897">Beda</text></g>
<g id="n-lyonposangaynidup" class="cp"><rect x="72" y="880" width="56" height="28"/><text x="100" y="892">Lyonpo<tspan x="100" dy="10">Sangay Nidup</tspan></text></g>
<g id="n-ugyentsechup" class="cp"><rect x="132" y="880" width="56" height="28"/><text x="160" y="892">Ugyen<tspan x="160" dy="10">Tsechup</tspan></text></g>
<g id="n-tobgay" class="cp"><rect x="193" y="880" width="51" height="28"/><text x="218.5" y="897">Tobgay</text></g>
<g id="n-sonamchoden" class="cp"><rect x="251" y="880" width="51" height="28"/><text x="276.5" y="892">Sonam<tspan x="276.5" dy="10">Choden</tspan></text></g>
<g id="n-qdorjiwangmo" class="rd"><rect x="340" y="879" width="58" height="30"/><text x="369" y="887">HM Queen<tspan x="369" dy="10">Ashi Dorji</tspan><tspan x="369" dy="10">Wangmo</tspan></text></g>
<g id="n-qtsheringpem" class="rd"><rect x="409" y="879" width="58" height="30"/><text x="438" y="887">HM Queen<tspan x="438" dy="10">Ashi Tshering</tspan><tspan x="438" dy="10">Pem</tspan></text></g>
<g id="n-qsangaychoden" class="rd"><rect x="478" y="879" width="59" height="30"/><text x="507.5" y="887">HM Queen<tspan x="507.5" dy="10">Ashi Sangay</tspan><tspan x="507.5" dy="10">Choden</tspan></text></g>
<g id="n-qtsheringyangdon" class="rd"><rect x="550" y="879" width="56" height="30"/><text x="578" y="887">HM Queen<tspan x="578" dy="10">Ashi Tshering</tspan><tspan x="578" dy="10">Yangdon</tspan></text></g>
<g id="n-hmjigmesingye" class="bl"><rect x="617" y="879" width="68" height="30"/><text x="651" y="892">HM Jigme Singye<tspan x="651" dy="10">Wangchuck</tspan></text></g>
<g id="n-hrhashisonam" class="dk"><rect x="688" y="880" width="42" height="28"/><text x="709" y="892">HRH Ashi<tspan x="709" dy="10">Sonam</tspan></text></g>
<g id="n-hrhdechenwangmo" class="dk"><rect x="734" y="879" width="43" height="30"/><text x="755.5" y="887">HRH Ashi<tspan x="755.5" dy="10">Dechen</tspan><tspan x="755.5" dy="10">Wangmo</tspan></text></g>
<g id="n-hrhkesangwangmo" class="dk"><rect x="781" y="880" width="52" height="30"/><text x="807" y="888">HRH Ashi<tspan x="807" dy="10">Kesang</tspan><tspan x="807" dy="10">Wangmo</tspan></text></g>
<g id="n-hrhpemalhadon" class="dk"><rect x="838" y="878" width="57" height="32"/><text x="866.5" y="887">HRH Ashi<tspan x="866.5" dy="10">Pema Lhadon</tspan><tspan x="866.5" dy="10">Pem Pem</tspan></text></g>
<g id="n-lemo" class="cp"><rect x="900" y="880" width="46" height="23"/><text x="923" y="894.5">Lemo</text></g>
<g id="n-gangmo" class="cp"><rect x="954" y="878" width="46" height="23"/><text x="977" y="892.5">Gangmo</text></g>
<g id="n-lyonposangaypenjor" class="cp"><rect x="1023" y="877" width="55" height="26"/><text x="1050.5" y="888">Lyonpo<tspan x="1050.5" dy="10">Sangay Penjor</tspan></text></g>
<g id="n-chumbi" class="cp"><rect x="1023" y="913" width="56" height="28"/><text x="1051" y="925">Chumbi Aum<tspan x="1051" dy="10">Dechen</tspan></text></g>
<g id="n-hrhparopenlop" class="db"><rect x="1083" y="877" width="50" height="23"/><text x="1108" y="886.5">HRH Paro<tspan x="1108" dy="10">Penlop</tspan></text></g>
<g id="n-hrhashideki" class="db"><rect x="1136" y="877" width="51" height="23"/><text x="1161.5" y="886.5">HRH Ashi<tspan x="1161.5" dy="10">Deki</tspan></text></g>
<g id="n-hrhashichoki" class="db"><rect x="1192" y="877" width="51" height="23"/><text x="1217.5" y="886.5">HRH Ashi<tspan x="1217.5" dy="10">Choki</tspan></text></g>
<g id="n-hrhashipemachoden" class="db"><rect x="1250" y="875" width="57" height="29"/><text x="1278.5" y="887.5">HRH Ashi<tspan x="1278.5" dy="10">Pema Choden</tspan></text></g>
<g id="n-11thsungtrul" class="cp"><rect x="1322" y="874" width="51" height="24"/><text x="1347.5" y="884">11th<tspan x="1347.5" dy="10">Sungtrul</tspan></text></g>
<g id="n-chodenwangmo" class="cp"><rect x="1390" y="874" width="46" height="24"/><text x="1413" y="884">Choden<tspan x="1413" dy="10">Wangmo</tspan></text></g>
<g id="n-yumsonamchukie" class="db"><rect x="1449" y="875" width="58" height="28"/><text x="1478" y="887">Yum Sonam<tspan x="1478" dy="10">Chukie</tspan></text></g>
<g id="n-yabcapt" class="db"><rect x="1520" y="874" width="68" height="32"/><text x="1554" y="883">Yab Capt.<tspan x="1554" dy="10">Dhendup</tspan><tspan x="1554" dy="10">Gyaltshen</tspan></text></g>
<g id="n-kezangdeki" class="cp"><rect x="1598" y="875" width="57" height="28"/><text x="1626.5" y="892">Kezang Deki</text></g>
<g id="n-lekipedon" class="cp"><rect x="1677" y="875" width="56" height="28"/><text x="1705" y="892">Leki Pedon</text></g>
<g id="n-chimiyangdon" class="cp"><rect x="1775" y="875" width="57" height="28"/><text x="1803.5" y="887">Chimi<tspan x="1803.5" dy="10">Yangdon</tspan></text></g>
<g id="n-rixin" class="cp"><rect x="859" y="963" width="60" height="30"/><text x="889" y="976">Dasho<tspan x="889" dy="10">Tshewang Rixin</tspan></text></g>
<g id="n-ugyennamgyel" class="cp"><rect x="926" y="963" width="55" height="30"/><text x="953.5" y="976">Ugyen<tspan x="953.5" dy="10">Namgyel</tspan></text></g>
<g id="n-chimi" class="cp"><rect x="991" y="963" width="55" height="30"/><text x="1018.5" y="981">Chimi</text></g>
<g id="n-hrhsonamdechen" class="dk"><rect x="177" y="1038" width="59" height="28"/><text x="206.5" y="1045">HRH Ashi<tspan x="206.5" dy="10">Sonam Dechen</tspan><tspan x="206.5" dy="10">Wangchuck</tspan></text></g>
<g id="n-hrhjigyel" class="dk"><rect x="242" y="1038" width="59" height="28"/><text x="271.5" y="1045">HRH Dasho<tspan x="271.5" dy="10">Jigyel Ugyen</tspan><tspan x="271.5" dy="10">Wangchuck</tspan></text></g>
<g id="n-hrhchimi" class="dk"><rect x="315" y="1038" width="61" height="30"/><text x="345.5" y="1046">HRH Ashi<tspan x="345.5" dy="10">Chimi Yangzom</tspan><tspan x="345.5" dy="10">Wangchuck</tspan></text></g>
<g id="n-hrhkesangchoeden" class="dk"><rect x="379" y="1038" width="70" height="31"/><text x="414" y="1046.5">HRH Ashi<tspan x="414" dy="10">Kesang Choeden</tspan><tspan x="414" dy="10">Wangchuck</tspan></text></g>
<g id="n-hrhugyenjigme" class="dk"><rect x="452" y="1038" width="58" height="28"/><text x="481" y="1045">HRH Dasho<tspan x="481" dy="10">Ugyen Jigme</tspan><tspan x="481" dy="10">Wangchuck</tspan></text></g>
<g id="n-hrhkhamsum" class="dk"><rect x="517" y="1035" width="66" height="33"/><text x="550" y="1044.5">HRH Dasho<tspan x="550" dy="10">Khamsum Singye</tspan><tspan x="550" dy="10">Wangchuck</tspan></text></g>
<g id="n-hrheuphelma" class="dk"><rect x="589" y="1035" width="70" height="35"/><text x="624" y="1045.5">HRH Ashi<tspan x="624" dy="10">Euphelma Choden</tspan><tspan x="624" dy="10">Wangchuck</tspan></text></g>
<g id="n-hrhdechenyangzomw" class="dk"><rect x="836" y="1035" width="68" height="34"/><text x="870" y="1045">HRH Ashi<tspan x="870" dy="10">Dechen Yangzom</tspan><tspan x="870" dy="10">Wangchuck</tspan></text></g>
<g id="n-hrhjigmedorji" class="dk"><rect x="911" y="1035" width="57" height="29"/><text x="939.5" y="1042.5">HRH Dasho<tspan x="939.5" dy="10">Jigme Dorji</tspan><tspan x="939.5" dy="10">Wangchuck</tspan></text></g>
<g id="n-khesar" class="bl"><rect x="975" y="1034" width="116" height="27"/><text x="1033" y="1045.5">HM the King Jigme Khesar<tspan x="1033" dy="10">Namgyel Wangchuck</tspan></text></g>
<g id="n-jetsunpema" class="rd"><rect x="1102" y="1035" width="93" height="25"/><text x="1148.5" y="1045.5">HM the Queen<tspan x="1148.5" dy="10">Gyaltsuen Jetsun Pema</tspan></text></g>
<g id="n-yeatso" class="dk"><rect x="1200" y="1034" width="56" height="27"/><text x="1228" y="1045.5">Ashi Yeatso<tspan x="1228" dy="10">Lhamo</tspan></text></g>
<g id="n-thinlay" class="dk"><rect x="1260" y="1034" width="55" height="27"/><text x="1287.5" y="1050.5">Thinlay  Norbu</text></g>
<g id="n-jigmenamgay" class="dk"><rect x="1320" y="1034" width="56" height="27"/><text x="1348" y="1045.5">Jigme<tspan x="1348" dy="10">Namgay</tspan></text></g>
<g id="n-serchen" class="dk"><rect x="1381" y="1034" width="55" height="27"/><text x="1408.5" y="1045.5">Serchen<tspan x="1408.5" dy="10">Doma</tspan></text></g>
<g id="n-gyalsey" class="bl"><rect x="981" y="1129" width="232" height="22"/><text x="1097" y="1143">His Royal Highness the Gyalsey Jigme Namgyel Wangchuck</text></g>
</g>
</svg>
